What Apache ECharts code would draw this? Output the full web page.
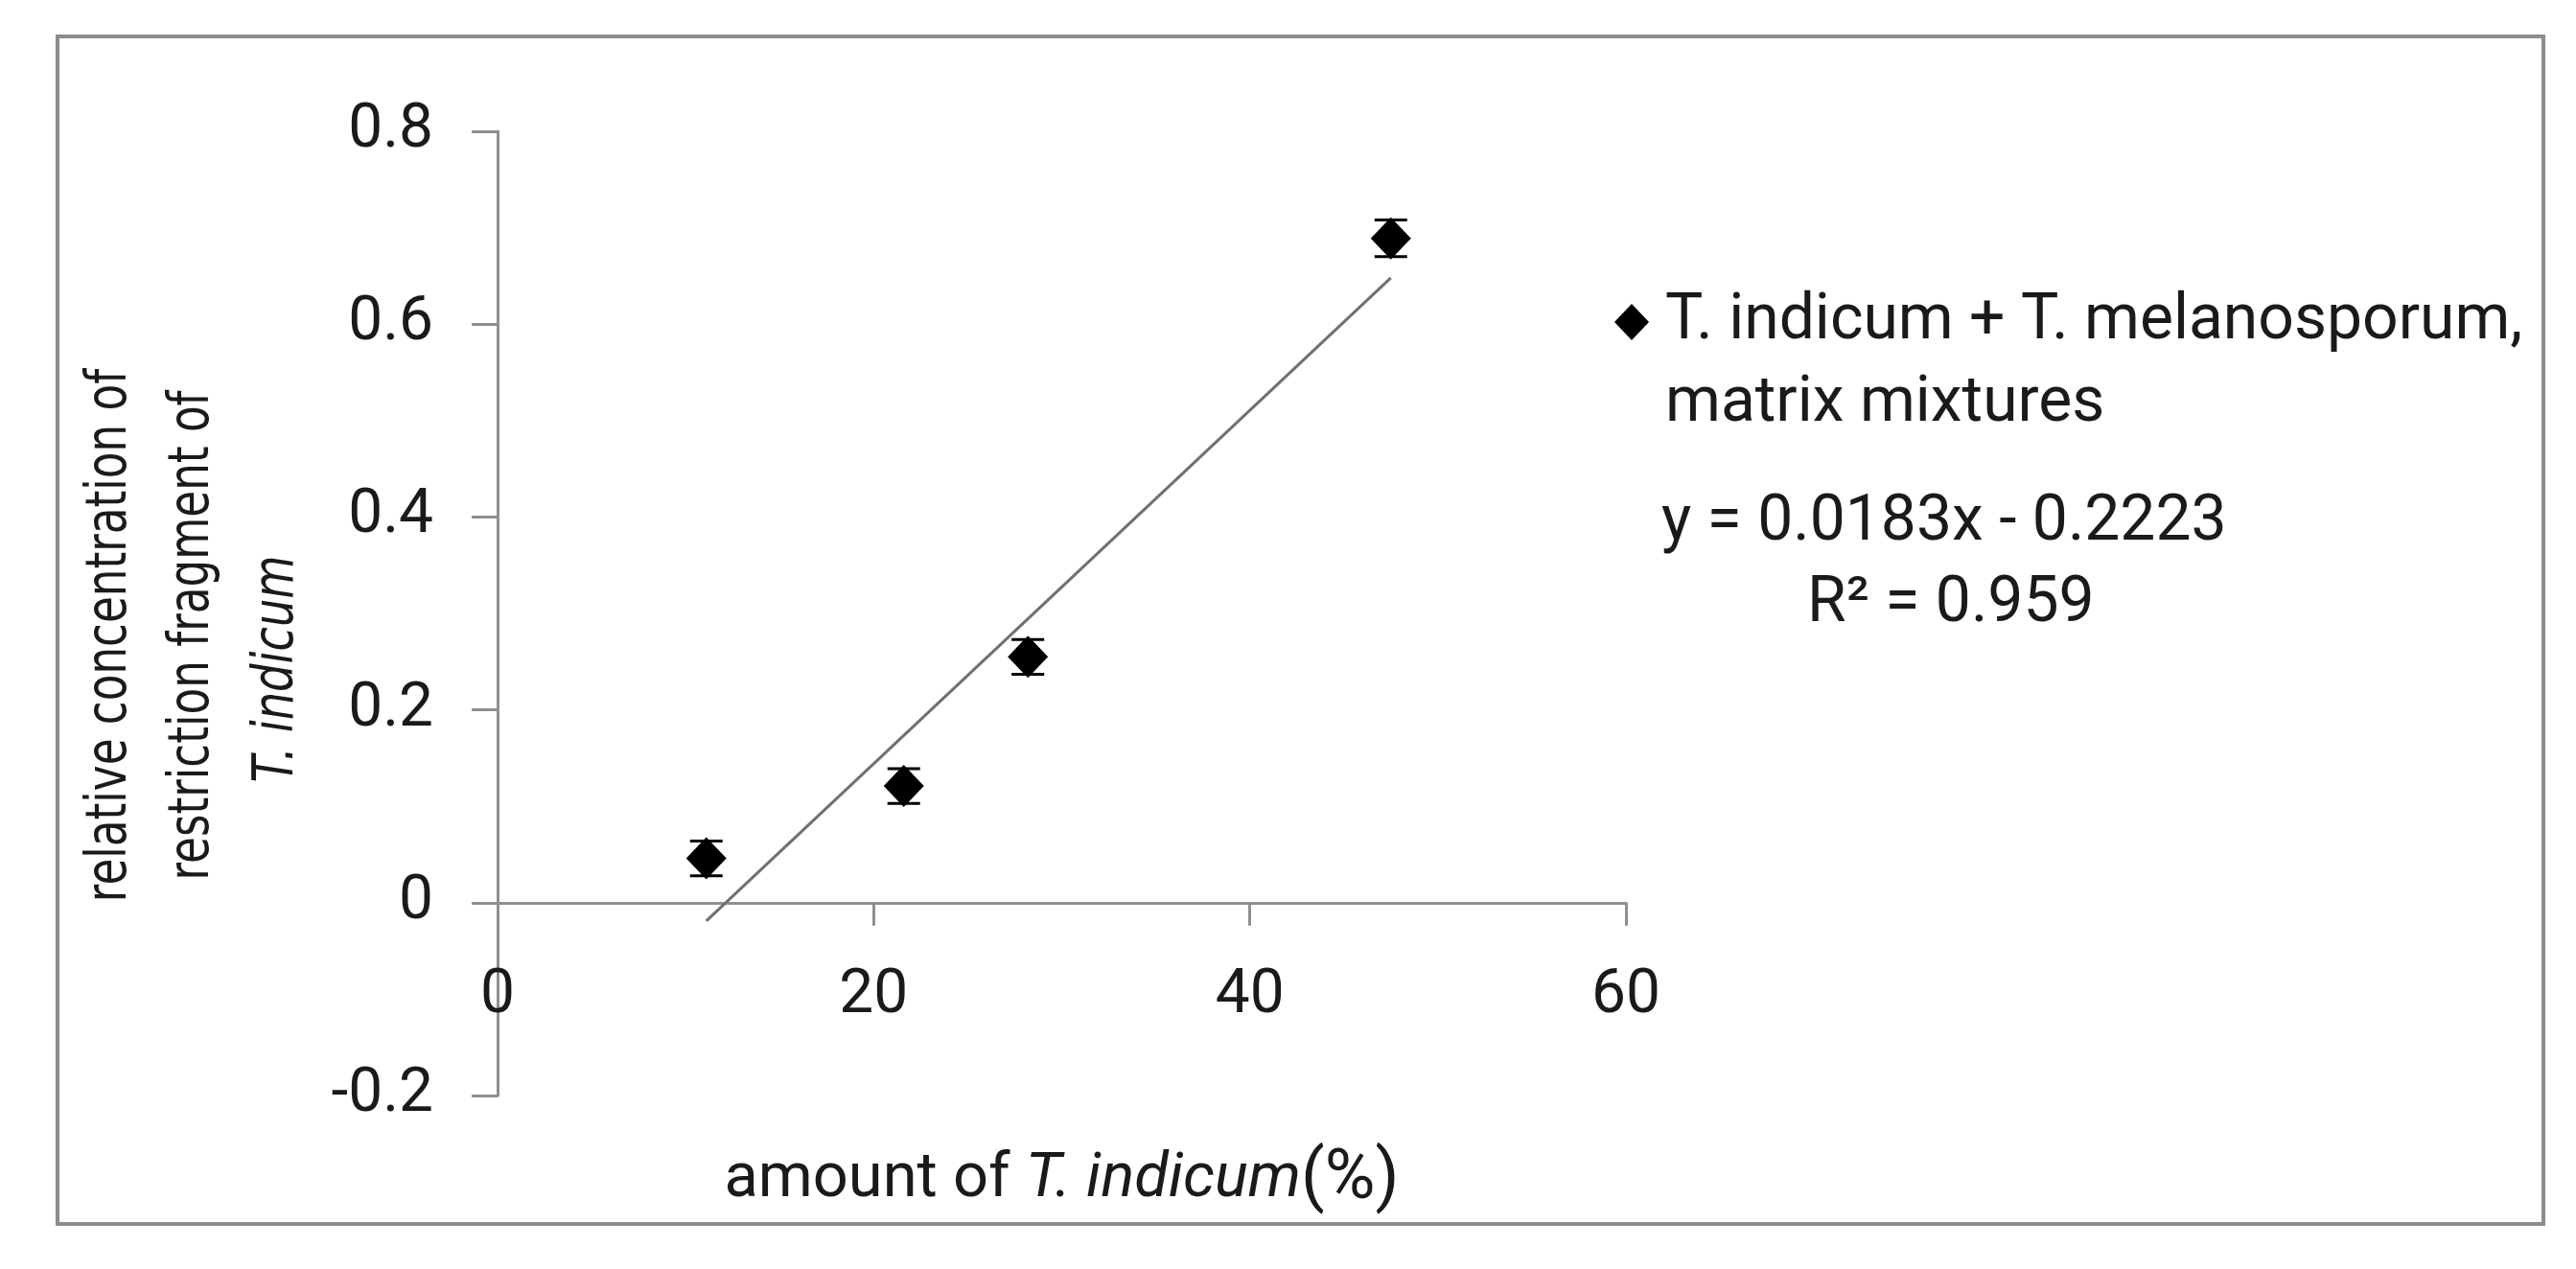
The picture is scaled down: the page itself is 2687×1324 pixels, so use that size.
<!DOCTYPE html>
<html><head><meta charset="utf-8">
<script src="https://cdn.jsdelivr.net/npm/echarts@6/dist/echarts.min.js"></script>
<style>html,body{margin:0;padding:0;background:#fff}#c{width:2687px;height:1324px}</style>
</head><body><div id="c"></div>
<script>
// ---- data ----
const xValues = [11.1, 21.6, 28.2, 47.5];          // amount of T. indicum (%)
const yValues = [0.046, 0.121, 0.255, 0.689];      // relative concentration
const yErrors = [0.018, 0.018, 0.018, 0.019];      // error bar half-length
const trendX = [11.1, 47.5];                        // trendline end points (x)
const trendY = [-0.019, 0.648];                     // trendline end points (y)
const xTicks = [0, 20, 40, 60];
const yTicks = [-0.2, 0, 0.2, 0.4, 0.6, 0.8];
const seriesName = 'T. indicum + T. melanosporum,\nmatrix mixtures';
const equationLine = 'y = 0.0183x - 0.2223';
const r2Line = 'R\u00B2 = 0.959';
const yTitleLines = ['relative concentration of', 'restriction fragment of', 'T. indicum'];
const xTitle = 'amount of {i|T. indicum}{p|(%)}';

const TXT = '#1a1a1a';
const AX = '#8f8f8f';
const FONT = 'Roboto';

const GRID = {left: 519, right: 991, top: 137, bottom: 181};
const H = 1324;
const yMin = yTicks[0], yMax = yTicks[yTicks.length - 1];
const gridH = H - GRID.top - GRID.bottom;
// x axis crosses the y axis at value 0: shift it up from the grid bottom by the scale's distance to 0
const xAxisOffset = -((0 - yMin) / (yMax - yMin)) * gridH;

const chart = echarts.init(document.getElementById('c'));
const option = {
  backgroundColor: '#fff',
  animation: false,
  grid: Object.assign({containLabel: false, outerBoundsMode: 'none'}, GRID),
  legend: {
    data: [seriesName],
    left: 1679, top: 202,
    icon: 'diamond',
    itemWidth: 36, itemHeight: 38,
    formatter: n => '\n' + n,
    itemStyle: {opacity: 1, color: '#000'},
    textStyle: {fontFamily: FONT, fontSize: 66, color: TXT, lineHeight: 86, padding: [0, 0, 0, 12]}
  },
  xAxis: {
    type: 'value', min: xTicks[0], max: xTicks[xTicks.length - 1], interval: xTicks[1] - xTicks[0],
    offset: xAxisOffset,
    axisLine: {onZero: false, lineStyle: {color: AX, width: 3}},
    axisTick: {show: true, inside: false, length: 24, lineStyle: {color: AX, width: 3}},
    splitLine: {show: false},
    axisLabel: {margin: 66, fontFamily: FONT, fontSize: 64, color: TXT},
    name: xTitle, nameLocation: 'middle', nameGap: 290,
    nameTextStyle: {
      fontFamily: FONT, fontSize: 65, color: TXT, verticalAlign: 'middle', align: 'center',
      rich: {
        i: {fontFamily: FONT, fontSize: 65, fontStyle: 'italic', color: TXT},
        p: {fontFamily: FONT, fontSize: 72, color: TXT}
      }
    }
  },
  yAxis: {
    type: 'value', min: yMin, max: yMax, interval: 0.2,
    axisLine: {show: true, onZero: false, lineStyle: {color: AX, width: 3}},
    axisTick: {show: true, inside: false, length: 27, lineStyle: {color: AX, width: 3}},
    splitLine: {show: false},
    axisLabel: {margin: 67, fontFamily: FONT, fontSize: 64, color: TXT,
      formatter: v => String(Math.round(v * 10) / 10)}
  },
  graphic: [
    {type: 'rect', z: -1, shape: {x: 60, y: 38, width: 2593, height: 1239},
     style: {fill: 'none', stroke: '#8c8c8c', lineWidth: 4}},
    {type: 'text', x: 159, y: 663, rotation: Math.PI / 2, scaleX: 0.78, scaleY: 1,
     style: {
       text: yTitleLines[0] + '\n' + yTitleLines[1],
       font: '58px "DejaVu Sans"', lineHeight: 86, fill: TXT,
       align: 'center', verticalAlign: 'middle'
     }},
    {type: 'text', x: 290, y: 698, rotation: Math.PI / 2, scaleX: 0.80, scaleY: 1,
     style: {
       text: yTitleLines[2],
       font: 'italic 58px "DejaVu Sans"', fill: TXT,
       align: 'center', verticalAlign: 'middle'
     }},
    {type: 'text', x: 1733, y: 546,
     style: {text: equationLine, fontFamily: FONT, fontSize: 66, fill: TXT, align: 'left', verticalAlign: 'middle'}},
    {type: 'text', x: 1885, y: 631,
     style: {text: r2Line, fontFamily: FONT, fontSize: 66, fill: TXT, align: 'left', verticalAlign: 'middle'}}
  ],
  series: [
    {
      name: 'errorbars', type: 'custom', z: 2, silent: true,
      data: xValues.map((x, i) => [x, yValues[i] - yErrors[i], yValues[i] + yErrors[i]]),
      renderItem: function (params, api) {
        const x = api.value(0);
        const lo = api.coord([x, api.value(1)]);
        const hi = api.coord([x, api.value(2)]);
        const w = 17;
        const st = {stroke: '#000', lineWidth: 3};
        return {type: 'group', children: [
          {type: 'line', shape: {x1: lo[0], y1: lo[1], x2: hi[0], y2: hi[1]}, style: st},
          {type: 'line', shape: {x1: lo[0] - w, y1: lo[1], x2: lo[0] + w, y2: lo[1]}, style: st},
          {type: 'line', shape: {x1: hi[0] - w, y1: hi[1], x2: hi[0] + w, y2: hi[1]}, style: st}
        ]};
      }
    },
    {
      name: 'trendline', type: 'line', z: 1, symbol: 'none', silent: true,
      data: trendX.map((x, i) => [x, trendY[i]]),
      lineStyle: {color: '#707070', width: 3}
    },
    {
      name: seriesName, type: 'scatter', z: 3,
      symbol: 'diamond', symbolSize: [42, 44],
      itemStyle: {color: '#000', opacity: 1},
      data: xValues.map((x, i) => [x, yValues[i]])
    }
  ]
};
chart.setOption(option);
</script>
</body></html>
